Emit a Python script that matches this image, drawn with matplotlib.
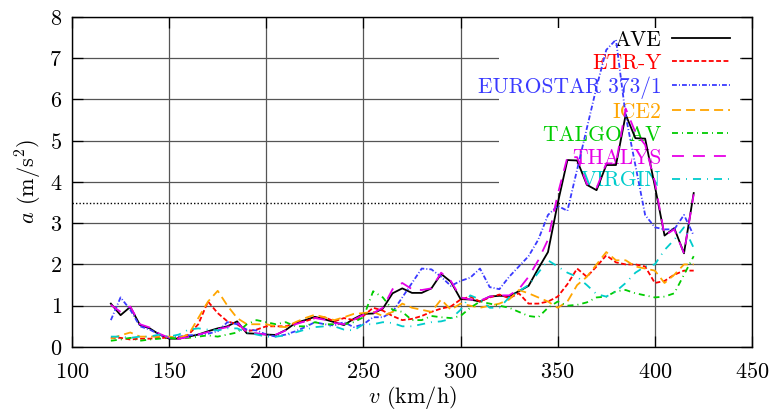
import matplotlib
matplotlib.use("Agg")
import matplotlib.pyplot as plt
from matplotlib.patches import Rectangle

plt.rcParams['font.family'] = 'serif'
plt.rcParams['font.serif'] = ['cmr10']
plt.rcParams['mathtext.fontset'] = 'cm'
plt.rcParams['axes.formatter.use_mathtext'] = True
plt.rcParams['lines.scale_dashes'] = False

# speed (km/h)
v = [120, 125, 130, 135, 140, 145, 150, 155, 160, 165,
     170, 175, 180, 185, 190, 195, 200, 205, 210, 215,
     220, 225, 230, 235, 240, 245, 250, 255, 260, 265,
     270, 275, 280, 285, 290, 295, 300, 305, 310, 315,
     320, 325, 330, 335, 340, 345, 350, 355, 360, 365,
     370, 375, 380, 385, 390, 395, 400, 405, 410, 415, 420]

ave = [1.05, 0.77, 0.97, 0.53, 0.45, 0.30, 0.20, 0.20, 0.25, 0.30,
       0.38, 0.45, 0.50, 0.62, 0.33, 0.32, 0.30, 0.29, 0.41, 0.58,
       0.65, 0.73, 0.67, 0.60, 0.53, 0.68, 0.80, 0.81, 0.93, 1.30,
       1.42, 1.31, 1.31, 1.42, 1.77, 1.58, 1.16, 1.15, 1.10, 1.22,
       1.24, 1.23, 1.35, 1.48, 1.90, 2.30, 3.48, 4.53, 4.52, 3.93,
       3.80, 4.41, 4.41, 5.63, 5.06, 5.05, 3.90, 2.70, 2.88, 2.27, 3.73]

etr_y = [0.22, 0.22, 0.18, 0.20, 0.20, 0.22, 0.22, 0.22, 0.30, 0.55,
         1.10, 0.82, 0.62, 0.55, 0.38, 0.42, 0.50, 0.50, 0.50, 0.58,
         0.62, 0.70, 0.72, 0.62, 0.70, 0.65, 0.75, 0.95, 0.88, 0.75,
         0.65, 0.68, 0.75, 0.85, 0.93, 0.98, 1.15, 1.22, 1.10, 1.20,
         1.27, 1.18, 1.30, 1.05, 1.05, 1.10, 1.22, 1.52, 1.90, 1.70,
         1.95, 2.22, 2.05, 2.00, 2.00, 1.95, 1.55, 1.60, 1.75, 1.85, 1.85]

eurostar = [0.65, 1.20, 0.90, 0.50, 0.42, 0.30, 0.22, 0.25, 0.28, 0.30,
            0.32, 0.38, 0.60, 0.55, 0.42, 0.40, 0.30, 0.25, 0.30, 0.38,
            0.48, 0.60, 0.55, 0.52, 0.60, 0.48, 0.55, 0.72, 0.72, 0.85,
            1.20, 1.55, 1.90, 1.88, 1.70, 1.48, 1.60, 1.68, 1.90, 1.45,
            1.40, 1.70, 1.95, 2.20, 2.60, 3.20, 3.42, 3.30, 4.30, 5.30,
            6.30, 7.20, 7.45, 5.60, 4.40, 3.20, 2.90, 2.85, 2.85, 3.20, 2.70]

ice2 = [0.20, 0.28, 0.35, 0.25, 0.25, 0.25, 0.25, 0.22, 0.30, 0.70,
        1.10, 1.36, 1.00, 0.70, 0.55, 0.55, 0.55, 0.50, 0.48, 0.60,
        0.70, 0.78, 0.72, 0.65, 0.72, 0.80, 0.82, 0.85, 0.75, 0.85,
        1.05, 0.95, 0.90, 0.85, 1.15, 0.90, 1.05, 1.00, 0.95, 1.00,
        1.05, 1.15, 1.38, 1.30, 1.20, 1.10, 0.95, 1.10, 1.50, 1.70,
        2.00, 2.30, 2.10, 2.10, 1.95, 1.90, 1.85, 1.55, 1.75, 2.00, 2.00]

talgo = [0.15, 0.18, 0.22, 0.15, 0.18, 0.20, 0.22, 0.20, 0.22, 0.25,
         0.28, 0.25, 0.30, 0.35, 0.55, 0.65, 0.60, 0.55, 0.60, 0.50,
         0.50, 0.60, 0.55, 0.55, 0.55, 0.60, 0.72, 1.35, 1.20, 0.90,
         0.85, 0.65, 0.65, 0.75, 0.72, 0.70, 0.75, 0.95, 1.10, 1.05,
         1.00, 0.95, 0.85, 0.75, 0.72, 0.95, 1.10, 1.00, 1.02, 1.08,
         1.20, 1.22, 1.35, 1.38, 1.30, 1.25, 1.20, 1.22, 1.30, 1.75, 2.20]

thalys = [1.02, 0.85, 0.98, 0.55, 0.47, 0.32, 0.22, 0.20, 0.24, 0.30,
          0.36, 0.43, 0.48, 0.60, 0.35, 0.33, 0.30, 0.30, 0.40, 0.55,
          0.62, 0.70, 0.66, 0.58, 0.55, 0.66, 0.78, 0.82, 0.95, 1.40,
          1.55, 1.40, 1.38, 1.42, 1.80, 1.60, 1.20, 1.15, 1.12, 1.22,
          1.25, 1.25, 1.40, 1.70, 2.10, 2.60, 3.70, 4.60, 4.60, 3.95,
          3.85, 4.45, 4.45, 5.78, 5.20, 4.90, 4.00, 2.70, 2.85, 2.27, 3.70]

virgin = [0.25, 0.25, 0.22, 0.25, 0.25, 0.30, 0.25, 0.30, 0.42, 0.45,
          0.42, 0.40, 0.45, 0.45, 0.35, 0.30, 0.25, 0.25, 0.28, 0.35,
          0.42, 0.48, 0.50, 0.50, 0.42, 0.40, 0.55, 0.55, 0.60, 0.58,
          0.50, 0.50, 0.55, 0.60, 0.62, 0.68, 0.90, 1.25, 1.15, 0.95,
          0.95, 1.20, 1.35, 1.50, 1.80, 2.10, 1.95, 1.80, 1.70, 1.50,
          1.28, 1.22, 1.35, 1.55, 1.80, 1.95, 2.00, 2.35, 2.60, 2.90, 2.40]

series = [
    ('AVE', ave, 'black', '-'),
    ('ETR-Y', etr_y, '#ff0000', (0, (3.5, 1.8))),
    ('EUROSTAR 373/1', eurostar, '#3a3aff', (0, (3.5, 1.5, 0.7, 1.5))),
    ('ICE2', ice2, '#ffa500', (0, (6.5, 3.6))),
    ('TALGO AV', talgo, '#00cc00', (0, (4.3, 2.9, 0.7, 2.9))),
    ('THALYS', thalys, '#e600e6', (0, (8.6, 6.5))),
    ('VIRGIN', virgin, '#00cccc', (0, (5.8, 4.3, 0.7, 4.3))),
]

fs = 16

fig = plt.figure(figsize=(7.7, 4.19), dpi=100)
ax = fig.add_axes([0.0935, 0.172, 0.8831, 0.7876])
ax.set_axisbelow(True)

for name, vals, col, ls in series:
    ax.plot(v, vals, color=col, linestyle=ls, lw=1.3, label=name, zorder=3)

ax.axhline(3.5, color='black', linestyle=(0, (1, 1.5)), lw=1.0, zorder=2)

ax.set_xlim(100, 450)
ax.set_ylim(0, 8)
ax.set_xticks(range(100, 451, 50))
ax.set_yticks(range(0, 9))
ax.grid(True, color='#555555', lw=0.9)
ax.tick_params(direction='in', length=8, width=0.9, top=True, right=True,
               labelsize=fs, colors='black')
ax.tick_params(axis='x', pad=11)
ax.tick_params(axis='y', pad=7)
for s in ax.spines.values():
    s.set_linewidth(1.0)

# white key box hides the grid behind the legend
ax.add_patch(Rectangle((0.628, 0.467), 0.354, 0.5, transform=ax.transAxes,
                       facecolor='white', edgecolor='none', zorder=1))

leg = ax.legend(loc='upper right', bbox_to_anchor=(1.0, 1.025), frameon=False,
                markerfirst=False, fontsize=15.5, labelcolor='linecolor',
                handlelength=2.7, handletextpad=0.5, labelspacing=0.16,
                borderaxespad=0.6, borderpad=0.4)
leg.set_zorder(2)

ax.set_xlabel('$v$ (km/h)', fontsize=fs, labelpad=1)
ax.set_ylabel('$a$ (m/s$^2$)', fontsize=fs, labelpad=4)

fig.savefig('out.png', dpi=100)
